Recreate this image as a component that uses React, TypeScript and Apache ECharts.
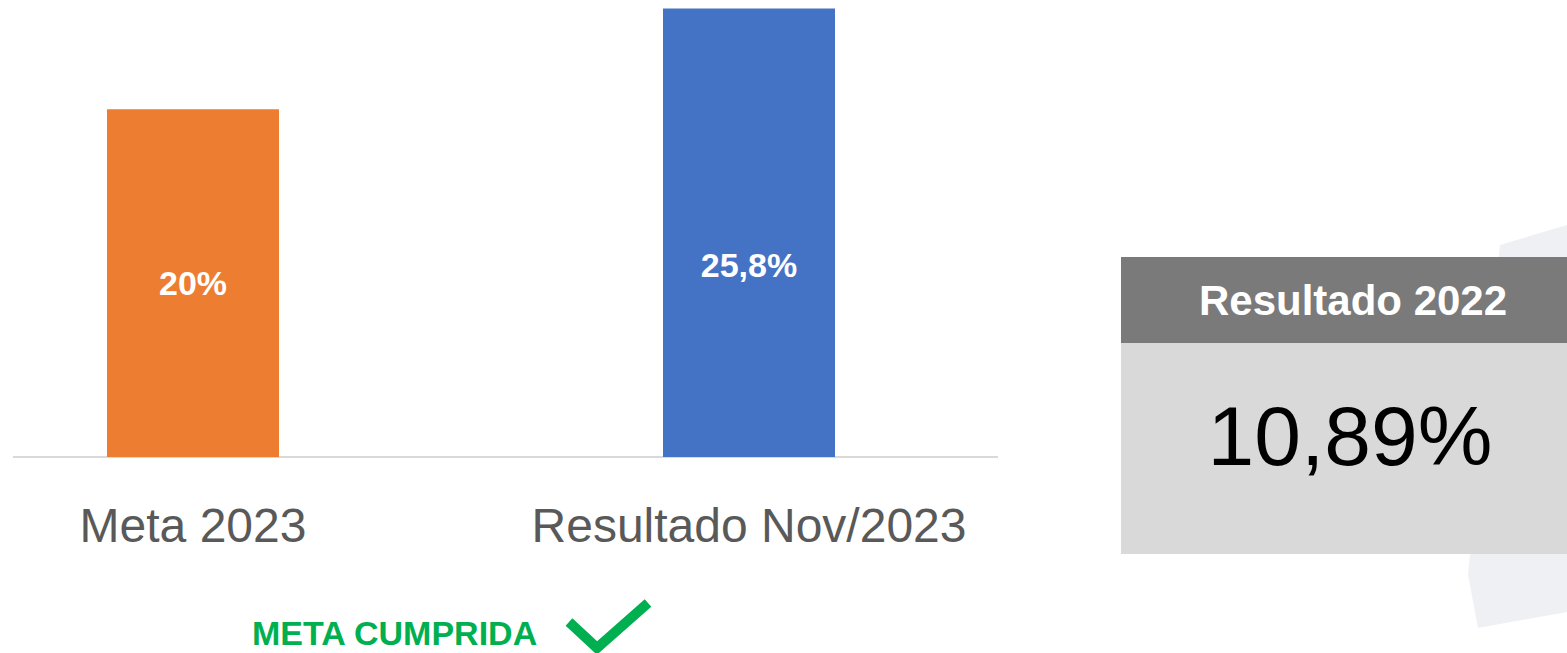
import React, { useEffect, useRef } from "react";
import * as echarts from "echarts";

const categories = ["Meta 2023", "Resultado Nov/2023"];
const values = [20, 25.8];
const valueLabels = ["20%", "25,8%"];
const barColors = ["#ED7D31", "#4472C4"];
const boxTitle = "Resultado 2022";
const boxValue = "10,89%";
const statusText = "META CUMPRIDA";

export default function App() {
  const ref = useRef<HTMLDivElement>(null);
  useEffect(() => {
    if (!ref.current) return;
    const chart = echarts.init(ref.current, null, { renderer: "svg" });
    const font = "'Liberation Sans', Arial, sans-serif";
    chart.setOption({
      animation: false,
      backgroundColor: "#ffffff",
      grid: { left: 193, right: 818, top: 5, bottom: 196 },
      xAxis: {
        type: "category",
        data: categories,
        boundaryGap: false,
        axisLine: { show: false },
        axisTick: { show: false },
        axisLabel: {
          interval: 0,
          color: "#595959",
          fontSize: 48,
          fontFamily: font,
          margin: 44,
        },
      },
      yAxis: { type: "value", min: 0, max: 26, show: false },
      series: [
        {
          type: "bar",
          barWidth: 172,
          data: values.map((v, i) => ({
            value: v,
            itemStyle: { color: barColors[i] },
            label: {
              show: true,
              position: "inside",
              offset: i === 1 ? [0, 32] : [0, 0],
              formatter: valueLabels[i],
              color: "#ffffff",
              fontWeight: "bold",
              fontSize: 34,
              fontFamily: font,
            },
          })),
        },
      ],
      graphic: [
        {
          type: "line",
          shape: { x1: 13, y1: 457, x2: 998, y2: 457 },
          style: { stroke: "#d9d9d9", lineWidth: 2 },
          z: 1,
        },
        {
          type: "polygon",
          shape: {
            points: [
              [1500, 245],
              [1567, 225],
              [1567, 612],
              [1478, 628],
              [1468, 575],
            ],
          },
          style: { fill: "#eff0f4" },
          z: 0,
        },
        {
          type: "rect",
          shape: { x: 1121, y: 257, width: 446, height: 86 },
          style: { fill: "#7a7a7a" },
          z: 2,
        },
        {
          type: "rect",
          shape: { x: 1121, y: 343, width: 446, height: 211 },
          style: { fill: "#d9d9d9" },
          z: 2,
        },
        {
          type: "text",
          x: 1353,
          y: 300,
          style: {
            text: boxTitle,
            fill: "#ffffff",
            font: `bold 42px ${font}`,
            align: "center",
            verticalAlign: "middle",
          },
          z: 3,
        },
        {
          type: "text",
          x: 1350,
          y: 436,
          style: {
            text: boxValue,
            fill: "#000000",
            font: `84px ${font}`,
            align: "center",
            verticalAlign: "middle",
          },
          z: 3,
        },
        {
          type: "text",
          x: 252,
          y: 633,
          style: {
            text: statusText,
            fill: "#00B050",
            font: `bold 34px ${font}`,
            align: "left",
            verticalAlign: "middle",
          },
          z: 3,
        },
        {
          type: "polyline",
          shape: {
            points: [
              [569, 622],
              [597, 648],
              [648, 603],
            ],
          },
          style: { stroke: "#00B050", lineWidth: 10, fill: "none" },
          z: 3,
        },
      ],
    });
    return () => chart.dispose();
  }, []);
  return (
    <div
      ref={ref}
      style={{ position: "fixed", left: 0, top: 0, width: 1567, height: 653 }}
    />
  );
}
